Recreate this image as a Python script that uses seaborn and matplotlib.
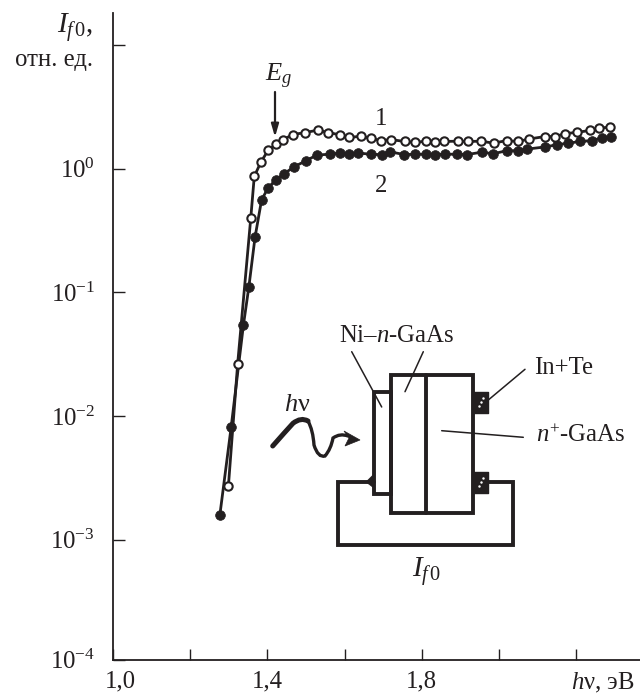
import numpy as np
import pandas as pd
import matplotlib
matplotlib.use("Agg")
import matplotlib.pyplot as plt
from matplotlib.patches import Rectangle, Polygon, PathPatch
from matplotlib.path import Path
from matplotlib.transforms import ScaledTranslation
import seaborn as sns

# Curve 1 (open circles)
x1 = [1.299, 1.323, 1.357, 1.366, 1.383, 1.402, 1.422, 1.441, 1.466, 1.498, 1.530, 1.558, 1.588, 1.612,
      1.642, 1.668, 1.694, 1.720, 1.756, 1.782, 1.810, 1.834, 1.857, 1.893, 1.919, 1.953, 1.986, 2.020,
      2.050, 2.078, 2.119, 2.145, 2.171, 2.203, 2.236, 2.260, 2.288]
y1 = [0.00273, 0.0266, 0.402, 0.866, 1.13, 1.41, 1.57, 1.72, 1.89, 1.96, 2.05, 1.96, 1.88, 1.79,
      1.83, 1.76, 1.69, 1.72, 1.66, 1.63, 1.67, 1.65, 1.66, 1.67, 1.66, 1.67, 1.61, 1.69,
      1.66, 1.74, 1.82, 1.82, 1.92, 1.97, 2.04, 2.13, 2.17]
# Curve 2 (filled circles)
x2 = [1.277, 1.306, 1.338, 1.352, 1.368, 1.385, 1.402, 1.422, 1.443, 1.470, 1.500, 1.528, 1.562, 1.588,
      1.611, 1.634, 1.668, 1.696, 1.718, 1.755, 1.782, 1.810, 1.834, 1.860, 1.890, 1.916, 1.955, 1.985,
      2.020, 2.050, 2.072, 2.119, 2.149, 2.180, 2.210, 2.240, 2.266, 2.290]
y2 = [0.0016, 0.0081, 0.0548, 0.111, 0.28, 0.561, 0.70, 0.815, 0.91, 1.04, 1.16, 1.29, 1.31, 1.34,
      1.32, 1.34, 1.31, 1.30, 1.37, 1.30, 1.31, 1.31, 1.30, 1.31, 1.31, 1.30, 1.36, 1.32,
      1.40, 1.40, 1.44, 1.50, 1.56, 1.61, 1.66, 1.69, 1.77, 1.82]

x_ticks = [1.0, 1.2, 1.4, 1.6, 1.8, 2.0, 2.2]
x_labels = ["1,0", "", "1,4", "", "1,8", "", r"$\mathit{h}$ν, эВ"]
y_exps = [1, 0, -1, -2, -3]
y_labels = ["", "0", "\u22121", "\u22122", "\u22123"]

INK = "#231f20"
W, H = 640, 697

sns.set_style("ticks")
plt.rcParams.update({
    "font.family": ["Liberation Serif", "DejaVu Serif"],
    "mathtext.fontset": "custom",
    "mathtext.rm": "Liberation Serif",
    "mathtext.it": "Liberation Serif:italic",
    "mathtext.default": "regular",
    "text.color": INK, "axes.edgecolor": INK,
    "xtick.color": INK, "ytick.color": INK,
})
FS = 17.8

fig = plt.figure(figsize=(W / 100, H / 100), dpi=100, facecolor="white")
ax = fig.add_axes([113 / W, (H - 659.5) / H, (W - 113) / W, 646.5 / H])
ax.set_facecolor("none")

df1 = pd.DataFrame({"x": x1, "y": y1})
df2 = pd.DataFrame({"x": x2, "y": y2})
sns.lineplot(data=df2, x="x", y="y", ax=ax, color=INK, lw=2.0, marker="o", ms=7.0,
             mfc=INK, mec=INK, mew=0.5, estimator=None, sort=False)
sns.lineplot(data=df1, x="x", y="y", ax=ax, color=INK, lw=2.0, marker="o", ms=6.0,
             mfc="white", mec=INK, mew=1.5, estimator=None, sort=False)

ax.set_yscale("log")
ax.set_xlim(1.0, 1.0 + 527 / 386)
bottom, top = 10 ** -3.968, 10 ** 1.259
ax.set_ylim(bottom, top)
ax.set_xlabel("")
ax.set_ylabel("")
sns.despine(ax=ax)
for s in ("left", "bottom"):
    ax.spines[s].set_linewidth(1.3)

ax.set_xticks(x_ticks)
ax.set_xticklabels(x_labels, fontsize=FS)
ax.xaxis.set_minor_locator(matplotlib.ticker.NullLocator())
ax.tick_params(axis="x", direction="in", length=8.0, width=1.0, pad=8)
y_pos = [10.0 ** e for e in y_exps] + [bottom]
y_txt = [f"10$^{{{t}}}$" if t else "" for t in y_labels] + ["10$^{\u22124}$"]
ax.set_yticks(y_pos)
ax.set_yticklabels(y_txt, fontsize=FS)
ax.yaxis.set_minor_locator(matplotlib.ticker.NullLocator())
ax.tick_params(axis="y", direction="in", length=8.5, width=1.0, pad=13)

labs = ax.get_xticklabels()
labs[0].set_transform(labs[0].get_transform() + ScaledTranslation(5 / 72, 0, fig.dpi_scale_trans))
labs[-1].set_transform(labs[-1].get_transform() + ScaledTranslation(19 / 72, 0, fig.dpi_scale_trans))

# Pixel-space overlay for annotations and the inset schematic
ov = fig.add_axes([0, 0, 1, 1], facecolor="none")
ov.set_xlim(0, W)
ov.set_ylim(H, 0)
ov.axis("off")

def txt(x, y, s, size=FS, ha="center"):
    ov.text(x, y, s, fontsize=size, ha=ha, va="center")

txt(93, 28, r"$\mathit{I}_{\mathit{f}\,0}$,", size=21, ha="right")
txt(93, 60, "отн. ед.", ha="right")
txt(279, 76, r"$\mathit{E}_{\mathit{g}}$", size=19)
txt(381, 119, "1")
txt(381, 186, "2")
txt(397, 336, r"Ni–$\mathit{n}$-GaAs")
txt(534, 368, "In+Te", ha="left")
txt(536, 436, r"$\mathit{n}^{+}$-GaAs", ha="left")
txt(297, 405, r"$\mathit{h}$ν", size=19)
txt(427, 571, r"$\mathit{I}_{\mathit{f}\,0}$", size=21)

ov.annotate("", xy=(275, 137), xytext=(275, 92),
            arrowprops=dict(arrowstyle="-|>,head_length=0.75,head_width=0.22", color=INK, lw=1.6,
                            shrinkA=0, shrinkB=0))

BW = 2.8
rects = [(390.7, 375, 82.6, 137.7), (374, 391.7, 16.7, 102.3)]
for rx, ry, rw, rh in rects:
    ov.add_patch(Rectangle((rx, ry), rw, rh, fill=False, ec=INK, lw=BW, joinstyle="miter"))
ov.plot([425.7, 425.7], [375, 512.7], color=INK, lw=BW)
ov.plot([374, 338.3, 338.3, 512.7, 512.7, 486], [482.3, 482.3, 545, 545, 482.3, 482.3],
        color=INK, lw=BW, solid_joinstyle="miter")
ov.add_patch(Polygon([(366, 482), (374, 474), (374, 488)], fc=INK, ec=INK, lw=0.5))
for by in (391.7, 471.7):
    ov.add_patch(Rectangle((473, by), 15, 21, fc=INK, ec=INK, lw=1, joinstyle="round"))
    ov.plot([479, 481, 483], [by + 14, by + 10, by + 6], ls="none", marker=".", ms=1.5, color="white")

leaders = [((351.7, 351.7), (381.7, 407)), ((423.3, 351.7), (405, 391.7)),
           ((525, 369.3), (488.3, 400)), ((441.7, 430.7), (523.3, 437.3))]
for (a, b), (c, d) in leaders:
    ov.plot([a, c], [b, d], color=INK, lw=1.1)

verts = [(272.7, 446), (285, 432), (293, 423.3), (301, 417), (308, 421), (313, 430),
         (314, 445), (318, 458), (325, 456), (331, 449), (333, 438), (340, 433), (348, 436)]
codes = [Path.MOVETO] + [Path.CURVE3] * 12
ov.add_patch(PathPatch(Path(verts, codes), fill=False, ec=INK, lw=2.4, capstyle="round"))
ov.add_patch(PathPatch(Path(verts[:5], codes[:5]), fill=False, ec=INK, lw=3.6, capstyle="round"))
ov.add_patch(Polygon([(344, 431), (360, 440), (345, 446), (349, 438)], fc=INK, ec=INK, lw=0.5))

fig.savefig("out.png", dpi=100)
